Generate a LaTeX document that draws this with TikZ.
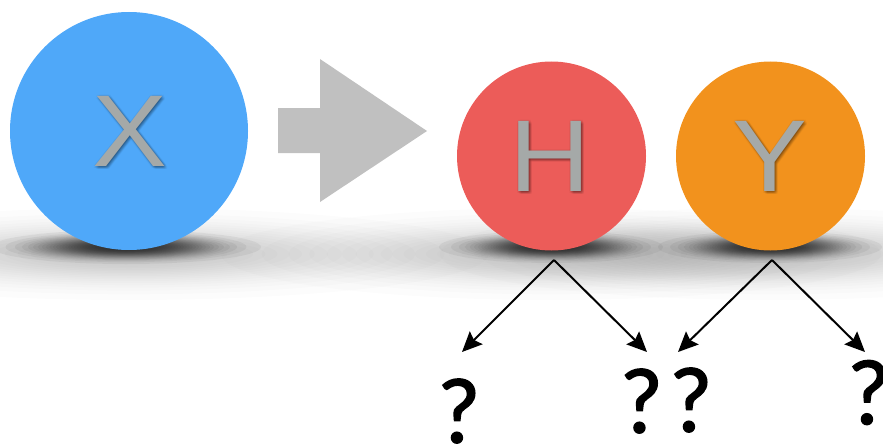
\documentclass[tikz,border=0pt]{standalone}
\usepackage{fontspec}
\setmainfont{Liberation Sans}
\newfontfamily\letterfont[FakeStretch=1.1]{Liberation Sans}
\newfontfamily\qfont[FakeBold=1.6]{Lato}
\usetikzlibrary{arrows.meta}

\definecolor{xblue}{HTML}{4FA8F9}
\definecolor{hred}{HTML}{EC5C59}
\definecolor{yorange}{HTML}{F2921D}
\definecolor{lettergray}{HTML}{A5A9A8}
\definecolor{arrowgray}{HTML}{C0C0C0}

\tikzset{
  ball/.style={circle, inner sep=0pt, minimum size=#1},
  letter/.style={inner sep=0pt, text=lettergray, font=\letterfont\fontsize{102}{102}\selectfont},
  lettershade/.style={inner sep=0pt, text=black, opacity=0.035, font=\letterfont\fontsize{102}{102}\selectfont},
  qmark/.style={inner sep=0pt, font=\qfont\fontsize{88}{88}\selectfont},
  branch/.style={line width=2pt, -{Stealth[length=20pt,width=18pt,inset=3pt]}},
  floorlayer/.style={fill=black, opacity=#1}
}

% soft floor shadow: stacked translucent ellipses with a Gaussian profile
% #1 centre, #2 half width, #3 half height, #4 opacity of each layer, #5 layers
\newcommand{\floorshadow}[5]{%
  \foreach \k in {1,...,#5}
    \fill[floorlayer=#4] (#1) ellipse ({#2*sqrt(ln(#5/\k)/ln(#5))} and {#3*sqrt(ln(#5/\k)/ln(#5))});}

% grey letter with a soft dark halo
\newcommand{\shadedletter}[2]{%
  \foreach \dx/\dy in {-1/0,0/-1,0/1,1/0,1/1,2/1,1/2,2/2,2/3,3/2,3/3,0/2,2/0,1/3,3/1,-1/2,2/-1}
    \node[lettershade, xshift=\dx pt, yshift=-\dy pt] at (#1) {#2};
  \node[letter] at (#1) {#2};}

\begin{document}
\begin{tikzpicture}[x=1pt,y=-1pt]
\useasboundingbox (0,0) rectangle (883,444);

% floor shadows
\coordinate (sx) at (129,254);
\coordinate (sh) at (551,254);
\coordinate (sy) at (770,254);
\floorshadow{sx}{360}{46}{0.011}{20}
\floorshadow{sh}{330}{46}{0.011}{20}
\floorshadow{sy}{330}{46}{0.011}{20}
\coordinate (dx) at (126,247);
\coordinate (dh) at (551,247);
\coordinate (dy) at (770,247);
\floorshadow{dx}{135}{17}{0.05}{30}
\floorshadow{dh}{112}{16}{0.05}{30}
\floorshadow{dy}{112}{16}{0.05}{30}

% balls
\node[ball=238pt, fill=xblue] (X) at (129,131) {};
\node[ball=189pt, fill=hred] (H) at (551.5,156) {};
\node[ball=189pt, fill=yorange] (Y) at (770.5,156) {};

\coordinate (Xc) at (129.5,131);
\coordinate (Hc) at (550.5,156.5);
\coordinate (Yc) at (770,156.5);
\shadedletter{Xc}{X}
\shadedletter{Hc}{H}
\shadedletter{Yc}{Y}

% big transition arrow
\fill[arrowgray] (278,108) -- (320,108) -- (320,59) -- (427,131)
  -- (320,202) -- (320,153) -- (278,153) -- cycle;

% unknown outputs
\node[qmark] (q1) at (459,411) {?};
\node[qmark] (q2) at (641.5,401) {?};
\node[qmark] (q3) at (691,400) {?};
\node[qmark] (q4) at (869,392.5) {?};

\coordinate (Hroot) at (554,260);
\coordinate (Yroot) at (772,260);
\coordinate (t1) at (462,352);
\coordinate (t2) at (647,352);
\coordinate (t3) at (678,352);
\coordinate (t4) at (865,352);

\draw[branch] (Hroot) -- (t1);
\draw[branch] (Hroot) -- (t2);
\draw[branch] (Yroot) -- (t3);
\draw[branch] (Yroot) -- (t4);
\end{tikzpicture}
\end{document}
